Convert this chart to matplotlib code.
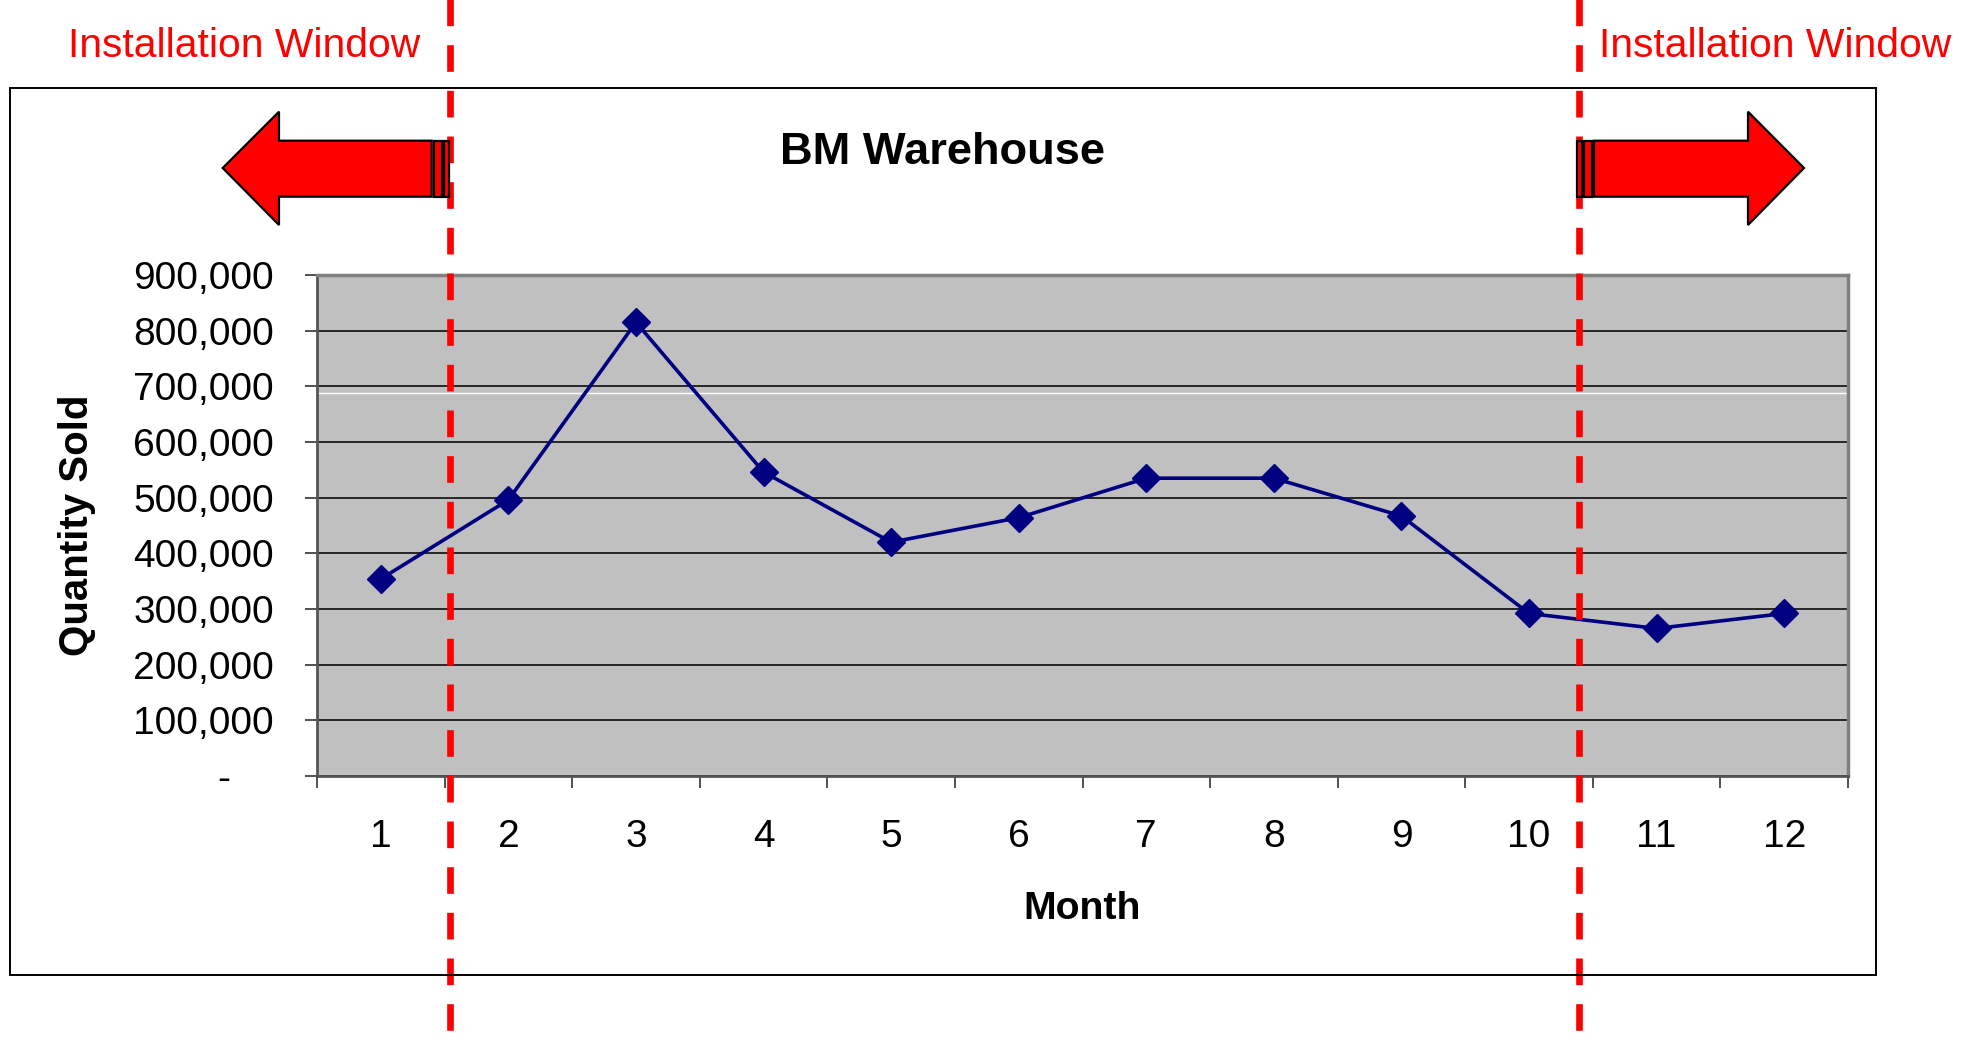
import numpy as np
import matplotlib
matplotlib.use("Agg")
import matplotlib.pyplot as plt
from matplotlib import patches, transforms
from matplotlib.ticker import FuncFormatter

plt.rcParams["font.family"] = ["Liberation Sans", "DejaVu Sans"]

# data
months = [1, 2, 3, 4, 5, 6, 7, 8, 9, 10, 11, 12]
quantity_sold = [354000, 496000, 815000, 546000, 420000, 464000,
                 535000, 535000, 467000, 292000, 265000, 292000]
y_ticks = [0, 100000, 200000, 300000, 400000, 500000, 600000, 700000, 800000, 900000]
window_start = 1.54   # installation window boundaries (month axis)
window_end = 10.39

W, H = 1971, 1047


def fx(px):
    return px / W


def fy(py):
    return 1 - py / H


fig = plt.figure(figsize=(W / 100, H / 100), dpi=100)

# outer chart frame
fig.patches.append(patches.Rectangle((fx(10), fy(975)), fx(1866), 887 / H,
                                     transform=fig.transFigure, fill=False,
                                     edgecolor="black", lw=1.4, zorder=0))

ax = fig.add_axes([fx(317), fy(776), fx(1531), 501 / H])
ax.set_facecolor("#C0C0C0")

ax.plot(months, quantity_sold, color="#000080", lw=2.6, marker="D",
        markersize=14.5, markerfacecolor="#000080", markeredgecolor="#000080",
        zorder=5)

ax.set_xlim(0.5, 12.5)
ax.set_ylim(0, 900000)
ax.set_yticks(y_ticks)
ax.yaxis.set_major_formatter(FuncFormatter(lambda v, p: f"{v:,.0f}" if v else "-    "))
ax.grid(axis="y", color="#1a1a1a", lw=1.3, zorder=1)
ax.axhline(687500, color="white", lw=1.0, zorder=2)
ax.set_axisbelow(True)

ax.set_xticks(np.arange(0.5, 13, 1))
ax.set_xticklabels([])
ax.set_xticks(months, minor=True)
ax.set_xticklabels([str(m) for m in months], minor=True)
ax.tick_params(axis="x", which="major", direction="out", length=8.6, width=1.2,
               color="#333333")
ax.tick_params(axis="x", which="minor", length=0, pad=31, labelsize=28)
ax.tick_params(axis="y", direction="out", length=9, width=1.2, color="#333333",
               pad=22, labelsize=28)

for side in ["left", "bottom"]:
    ax.spines[side].set_color("#555555")
    ax.spines[side].set_linewidth(2)
for side in ["top", "right"]:
    ax.spines[side].set_color("#808080")
    ax.spines[side].set_linewidth(2.5)

ax.set_xlabel("Month", fontsize=28.3, fontweight="bold")
ax.xaxis.set_label_coords(0.5, (776 - 909) / 501)
ax.xaxis.label.set_va("center")
ax.set_ylabel("Quantity Sold", fontsize=29, fontweight="bold")
ax.yaxis.set_label_coords((77 - 317) / 1531, 0.5)
ax.yaxis.label.set_va("center")

fig.text(fx(943), fy(152), "BM Warehouse", fontsize=32.6, fontweight="bold",
         ha="center", va="center")
fig.text(fx(244), fy(46), "Installation Window", fontsize=29.3, color="red",
         ha="center", va="center")
fig.text(fx(1775), fy(46), "Installation Window", fontsize=29.3, color="red",
         ha="center", va="center")

# red dashed window boundaries running the full height of the figure
blend = transforms.blended_transform_factory(ax.transData, fig.transFigure)
for xv in [window_start, window_end]:
    ax.plot([xv, xv], [1 + 39 / H, 0], transform=blend, color="red", lw=4.8,
            dashes=(4.0, 2.85), clip_on=False, zorder=10, solid_capstyle="butt",
            dash_capstyle="butt")

# arrows
arrow_kw = dict(transform=fig.transFigure, facecolor="red", edgecolor="black",
                lw=1.6, zorder=3)


def px_poly(pts):
    return [(fx(x), fy(y)) for x, y in pts]


y_top, y_bot = 140.7, 196.7
left_arrow = [(222.7, 168), (279, 111.7), (279, y_top), (431.7, y_top),
              (431.7, y_bot), (279, y_bot), (279, 225)]
right_arrow = [(1594, y_top), (1748, y_top), (1748, 111.7), (1804, 168),
               (1748, 225), (1748, y_bot), (1594, y_bot)]
fig.patches.append(patches.Polygon(px_poly(left_arrow), closed=True, **arrow_kw))
fig.patches.append(patches.Polygon(px_poly(right_arrow), closed=True, **arrow_kw))
for x0, x1 in [(434, 442), (444, 449), (1577, 1582), (1584, 1592)]:
    fig.patches.append(patches.Rectangle((fx(x0), fy(y_bot)), fx(x1 - x0),
                                         (y_bot - y_top) / H, **arrow_kw))

fig.savefig("out.png", dpi=100)
